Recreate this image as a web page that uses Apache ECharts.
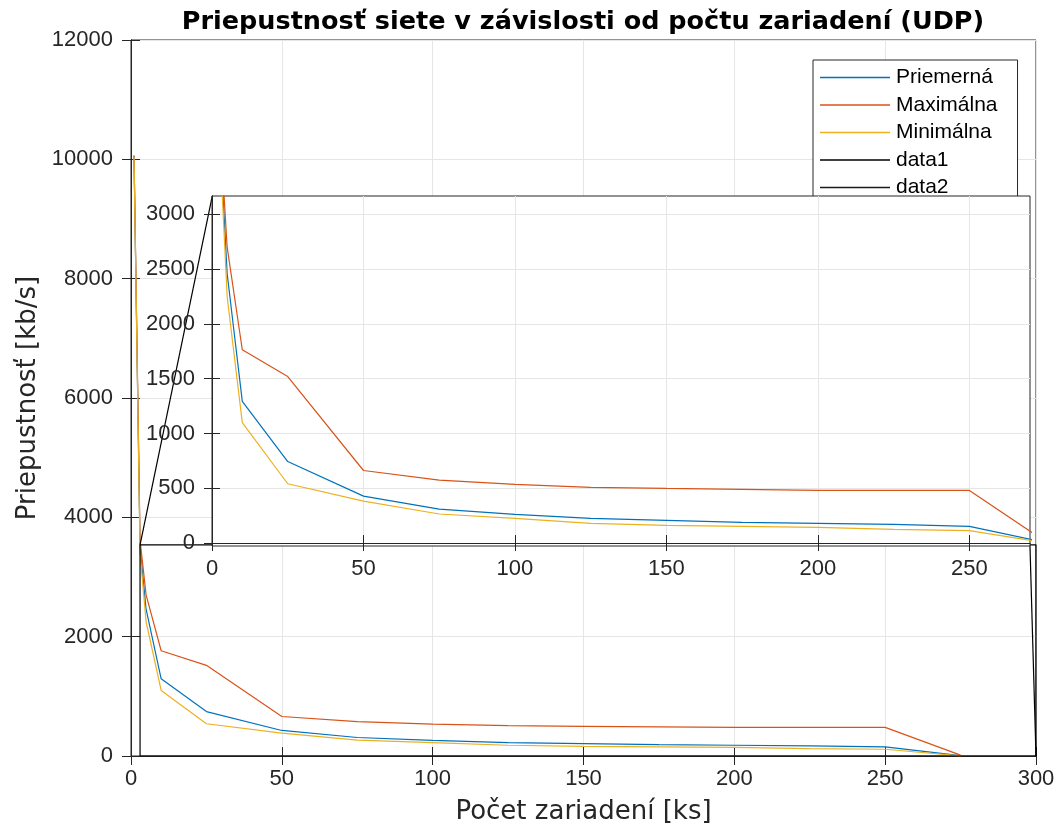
<!DOCTYPE html>
<html><head><meta charset="utf-8">
<script src="https://cdn.jsdelivr.net/npm/echarts@6/dist/echarts.min.js"></script>
<style>html,body{margin:0;padding:0;background:#fff}#c{width:1058px;height:827px}</style>
</head><body><div id="c"></div>
<script>
// ---- data ----
const deviceCount = [1, 3, 5, 10, 25, 50, 75, 100, 125, 150, 175, 200, 225, 250, 275];
const avgThroughput = [10050, 3500, 2460, 1293, 744, 428, 310, 261, 225, 207, 189, 180, 170, 152, 7];
const maxThroughput = [10070, 3620, 2700, 1764, 1519, 662, 575, 535, 508, 498, 489, 480, 480, 480, 15];
const minThroughput = [10040, 3400, 2250, 1099, 541, 383, 265, 225, 180, 161, 152, 143, 125, 113, 3];
const seriesNames = ['Priemerná', 'Maximálna', 'Minimálna'];
// zoom rectangle (data1) and connector lines (data2), in main-axes data units
const zoomBoxX = [3, 3, 300, 300, 3];
const zoomBoxY = [0, 3540, 3540, 0, 0];
const connector1X = [3, 26.95];
const connector1Y = [3540, 9388];
const connector2X = [300, 298];
const connector2Y = [0, 3526];
const mainXTicks = [0, 50, 100, 150, 200, 250, 300];
const mainYTicks = [0, 2000, 4000, 6000, 8000, 10000, 12000];
const insetXTicks = [0, 50, 100, 150, 200, 250];
const insetYTicks = [0, 500, 1000, 1500, 2000, 2500, 3000];
const insetXRange = [0, 270];
const insetYRange = [-27, 3167];

const pairs = (xs, ys) => xs.map((x, i) => [x, ys[i]]);
const colors = ['#0072BD', '#D95319', '#EDB120'];
const values = [avgThroughput, maxThroughput, minThroughput];
const AX = '#262626', GRID = '#e6e6e6';
const tickFont = 'Liberation Sans';
const fmt = v => String(v);

function baseAxis(extra) {
  return Object.assign({
    type: 'value',
    axisLine: { show: true, lineStyle: { color: AX, width: 1 } },
    axisTick: { show: true, inside: true, length: 9, lineStyle: { color: AX } },
    axisLabel: { color: AX, fontFamily: tickFont, fontSize: 22, formatter: fmt },
    splitLine: { show: true, lineStyle: { color: GRID, width: 1 } }
  }, extra);
}
const lbl = (margin, extra) => Object.assign({ color: AX, fontFamily: tickFont, fontSize: 22, margin, formatter: fmt }, extra || {});
const tck = (len, extra) => Object.assign({ show: true, inside: true, length: len, lineStyle: { color: AX } }, extra || {});

const xAxis = [
  baseAxis({ gridIndex: 0, position: 'bottom', min: 0, max: 300, interval: 50,
    axisLabel: lbl(12, { customValues: mainXTicks }),
    name: 'Počet zariadení [ks]', nameLocation: 'middle', nameGap: 43,
    nameTextStyle: { fontFamily: 'DejaVu Sans', fontSize: 26, color: AX } }),
  baseAxis({ gridIndex: 0, position: 'top', min: 0, max: 300, interval: 50,
    axisLabel: { show: false }, splitLine: { show: false } }),
  baseAxis({ gridIndex: 1, position: 'bottom', min: insetXRange[0], max: insetXRange[1], zlevel: 1, z: 1,
    axisTick: tck(8, { customValues: insetXTicks }),
    axisLabel: lbl(12, { customValues: insetXTicks }) }),
  baseAxis({ gridIndex: 1, position: 'top', min: insetXRange[0], max: insetXRange[1], zlevel: 1, z: 1,
    axisTick: tck(8, { customValues: insetXTicks }),
    axisLabel: { show: false }, splitLine: { show: false } })
];
const yAxis = [
  baseAxis({ gridIndex: 0, position: 'left', min: 0, max: 12000, interval: 2000,
    axisLabel: lbl(18, { customValues: mainYTicks }),
    name: 'Priepustnosť [kb/s]', nameLocation: 'middle', nameGap: 67,
    nameTextStyle: { fontFamily: 'DejaVu Sans', fontSize: 26, color: AX } }),
  baseAxis({ gridIndex: 0, position: 'right', min: 0, max: 12000, interval: 2000,
    axisLabel: { show: false }, splitLine: { show: false } }),
  baseAxis({ gridIndex: 1, position: 'left', min: insetYRange[0], max: insetYRange[1], zlevel: 1, z: 1,
    axisTick: tck(8, { customValues: insetYTicks }),
    axisLabel: lbl(17, { customValues: insetYTicks }) }),
  baseAxis({ gridIndex: 1, position: 'right', min: insetYRange[0], max: insetYRange[1], zlevel: 1, z: 1,
    axisTick: tck(8, { customValues: insetYTicks }),
    axisLabel: { show: false }, splitLine: { show: false } })
];

const series = [];
seriesNames.forEach((n, i) => {
  series.push({ name: n, type: 'line', xAxisIndex: 0, yAxisIndex: 0, data: pairs(deviceCount, values[i]),
    symbol: 'none', lineStyle: { color: colors[i], width: 1.2 }, itemStyle: { color: colors[i] }, z: 2, animation: false });
});
series.push({ name: 'data1', type: 'line', xAxisIndex: 0, yAxisIndex: 0, data: pairs(zoomBoxX, zoomBoxY),
  symbol: 'none', lineStyle: { color: '#000', width: 1.2 }, itemStyle: { color: '#000' }, z: 3, animation: false });
series.push({ name: 'data2', type: 'line', xAxisIndex: 0, yAxisIndex: 0, data: pairs(connector1X, connector1Y),
  symbol: 'none', lineStyle: { color: '#000', width: 1.2 }, itemStyle: { color: '#1a1a1a' }, z: 3, animation: false });
series.push({ name: 'data2', type: 'line', xAxisIndex: 0, yAxisIndex: 0, data: pairs(connector2X, connector2Y),
  symbol: 'none', lineStyle: { color: '#000', width: 1.2 }, itemStyle: { color: '#1a1a1a' }, z: 3, animation: false });
seriesNames.forEach((n, i) => {
  series.push({ name: n, type: 'line', xAxisIndex: 2, yAxisIndex: 2, data: pairs(deviceCount, values[i]),
    symbol: 'none', lineStyle: { color: colors[i], width: 1.2 }, itemStyle: { color: colors[i] },
    zlevel: 1, z: 2, animation: false });
});

const chart = echarts.init(document.getElementById('c'), null, { renderer: 'canvas' });
chart.setOption({
  animation: false,
  backgroundColor: '#fff',
  title: { text: 'Priepustnosť siete v závislosti od počtu zariadení (UDP)', left: 578, top: 4, textAlign: 'center',
    textStyle: { fontFamily: 'DejaVu Sans', fontWeight: 'bold', fontSize: 25.5, color: '#000' } },
  legend: {
    data: ['Priemerná', 'Maximálna', 'Minimálna', 'data1', 'data2'],
    icon: 'path://M0,0L70,0L70,1.3L0,1.3Z', symbolKeepAspect: true,
    orient: 'vertical', left: 813, top: 60, itemWidth: 70, itemHeight: 20, itemGap: 6.5,
    padding: [7, 20, 2, 7], borderColor: AX, borderWidth: 1, backgroundColor: '#fff',
    textStyle: { fontFamily: tickFont, fontSize: 21, color: '#000', padding: [0, 0, 0, 1] },
    selectedMode: false
  },
  grid: [
    { left: 131, top: 40, right: 22, bottom: 71, show: true, borderColor: AX, borderWidth: 1,
      backgroundColor: 'transparent', containLabel: false, outerBoundsMode: 'none' },
    { left: 212, top: 196, right: 28, bottom: 281, show: true, borderColor: AX, borderWidth: 1,
      backgroundColor: '#fff', zlevel: 1, z: 0, containLabel: false, outerBoundsMode: 'none' }
  ],
  xAxis, yAxis, series
});
</script></body></html>
